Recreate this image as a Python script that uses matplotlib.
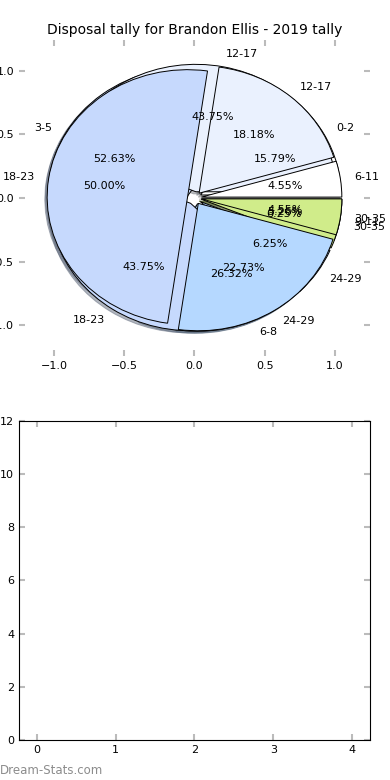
import matplotlib.pyplot as plt

title = "Disposal tally for Brandon Ellis - 2019 tally"

# three tallies drawn on top of each other (last one ends up on top)
labels_a = ['0-2', '3-5', '6-8', '9-11']
counts_a = [3, 10, 5, 1]

labels_c = ['12-17', '18-23', '24-29', '30-35']
counts_c = [7, 7, 1, 1]

labels_b = ['6-11', '12-17', '18-23', '24-29', '30-35']
counts_b = [1, 4, 11, 5, 1]

pie_ticks = [-1.0, -0.5, 0.0, 0.5, 1.0]
bar_xticks = [0, 1, 2, 3, 4]
bar_yticks = [0, 2, 4, 6, 8, 10, 12]

colours = {
    '0-2': '#ffffff', '3-5': '#c6d9fd', '6-8': '#b5d8ff', '9-11': '#d0ec8a',
    '6-11': '#ffffff', '12-17': '#eaf1fe', '18-23': '#c6d9fd',
    '24-29': '#b5d8ff', '30-35': '#d0ec8a',
}

fig = plt.figure(figsize=(3.9, 7.8), dpi=100)
ax1 = fig.add_axes([0.0487, 0.5436, 0.9, 0.4051])
ax2 = fig.add_axes([0.0487, 0.0513, 0.9, 0.409])

for labels, counts in [(labels_a, counts_a), (labels_c, counts_c), (labels_b, counts_b)]:
    ax1.pie(counts, labels=labels, colors=[colours[l] for l in labels],
            explode=[0.05] * len(counts), autopct='%1.2f%%',
            shadow={'ox': -0.012, 'oy': -0.012, 'shade': 0.5},
            startangle=0, counterclock=True,
            wedgeprops={'edgecolor': 'black', 'linewidth': 0.7},
            textprops={'fontsize': 8})

ax1.set_aspect('auto')
ax1.set_frame_on(False)
ax1.set_xlim(-1.25, 1.25)
ax1.set_ylim(-1.24, 1.24)
ax1.set_xticks(pie_ticks)
ax1.set_yticks(pie_ticks)
ax1.tick_params(direction='in', length=4, color='#bbbbbb', width=1.5,
                labelsize=8, top=True, right=True)
ax1.set_title(title, fontsize=10, pad=4)

ax2.set_xlim(-0.225, 4.225)
ax2.set_ylim(0, 12)
ax2.set_xticks(bar_xticks)
ax2.set_yticks(bar_yticks)
ax2.tick_params(direction='in', length=4, color='#bbbbbb', width=1.5,
                labelsize=8, top=True, right=True)

fig.text(0.0, 0.0125, 'Dream-Stats.com', fontsize=8.5, color='#8c8c8c',
         ha='left', va='center')

fig.savefig('out.png', dpi=100)
